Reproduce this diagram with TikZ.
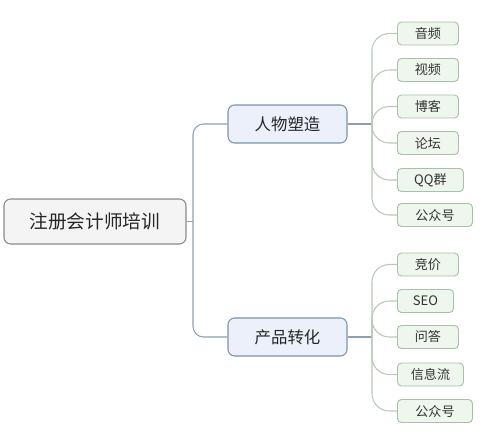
\documentclass[tikz,border=0pt]{standalone}
\usepackage{fontspec}
\newfontfamily\cjk{Noto Sans CJK SC}
\definecolor{rootfill}{HTML}{F4F4F4}
\definecolor{rootdraw}{HTML}{8A8A8A}
\definecolor{brfill}{HTML}{EBF0FA}
\definecolor{brdraw}{HTML}{7D93AA}
\definecolor{lffill}{HTML}{EEF6EE}
\definecolor{lfdraw}{HTML}{A6C2A6}
\definecolor{trunk}{HTML}{8CA0B2}
\definecolor{twig}{HTML}{B9C9B9}
\tikzset{
  rootbox/.style={draw=rootdraw, fill=rootfill, rounded corners=5pt, line width=0.8pt,
    minimum width=182*0.75pt, minimum height=45*0.75pt, inner sep=0pt,
    font=\cjk\fontsize{14}{16}\selectfont, text=black!85},
  brbox/.style={draw=brdraw, fill=brfill, rounded corners=5pt, line width=0.8pt,
    minimum width=119*0.75pt, minimum height=38*0.75pt, inner sep=0pt,
    font=\cjk\fontsize{12.3}{14}\selectfont, text=black!85},
  leafbox/.style={draw=lfdraw, fill=lffill, rounded corners=3pt, line width=0.7pt,
    minimum height=23*0.75pt, inner sep=0pt, anchor=west,
    font=\cjk\fontsize{9.8}{11}\selectfont, text=black!80},
  trunkline/.style={draw=trunk, line width=0.8pt, rounded corners=8pt},
  twigline/.style={draw=twig, line width=0.8pt, rounded corners=13pt},
}
\begin{document}
\begin{tikzpicture}[x=0.75pt,y=-0.75pt]
\useasboundingbox (0,0) rectangle (490,433);
\node[rootbox] (root) at (95,221.5) {注册会计师培训};
\node[brbox] (b1) at (287.5,124) {人物塑造};
\node[brbox] (b2) at (287.5,337) {产品转化};
\coordinate (jr) at (193,221.5);
\coordinate (j1) at (372,124);
\coordinate (j2) at (372,337);
% leaves group 1
\node[leafbox, minimum width=61*0.75pt] (a1) at (397,33.5) {音频};
\node[leafbox, minimum width=61*0.75pt] (a2) at (397,70) {视频};
\node[leafbox, minimum width=61*0.75pt] (a3) at (397,106.5) {博客};
\node[leafbox, minimum width=61*0.75pt] (a4) at (397,143) {论坛};
\node[leafbox, minimum width=66*0.75pt] (a5) at (397,180) {QQ群};
\node[leafbox, minimum width=75*0.75pt] (a6) at (397,215) {公众号};
% leaves group 2
\node[leafbox, minimum width=61*0.75pt] (c1) at (397,264.5) {竞价};
\node[leafbox, minimum width=56*0.75pt] (c2) at (397,301) {SEO};
\node[leafbox, minimum width=61*0.75pt] (c3) at (397,337) {问答};
\node[leafbox, minimum width=66*0.75pt] (c4) at (397,374.5) {信息流};
\node[leafbox, minimum width=75*0.75pt] (c5) at (397,411) {公众号};
% trunk
\draw[trunkline] (root.east) -- (jr);
\draw[trunkline] (jr) -- (jr |- b1.west) -- (b1.west);
\draw[trunkline] (jr) -- (jr |- b2.west) -- (b2.west);
\draw[trunkline] (b1.east) -- (j1);
\draw[trunkline] (b2.east) -- (j2);
% twigs
\foreach \l in {a1,a2,a3,a4,a5,a6}{
  \draw[twigline] (j1) -- (j1 |- \l.west) -- (\l.west);
}
\foreach \l in {c1,c2,c3,c4,c5}{
  \draw[twigline] (j2) -- (j2 |- \l.west) -- (\l.west);
}
\end{tikzpicture}
\end{document}
